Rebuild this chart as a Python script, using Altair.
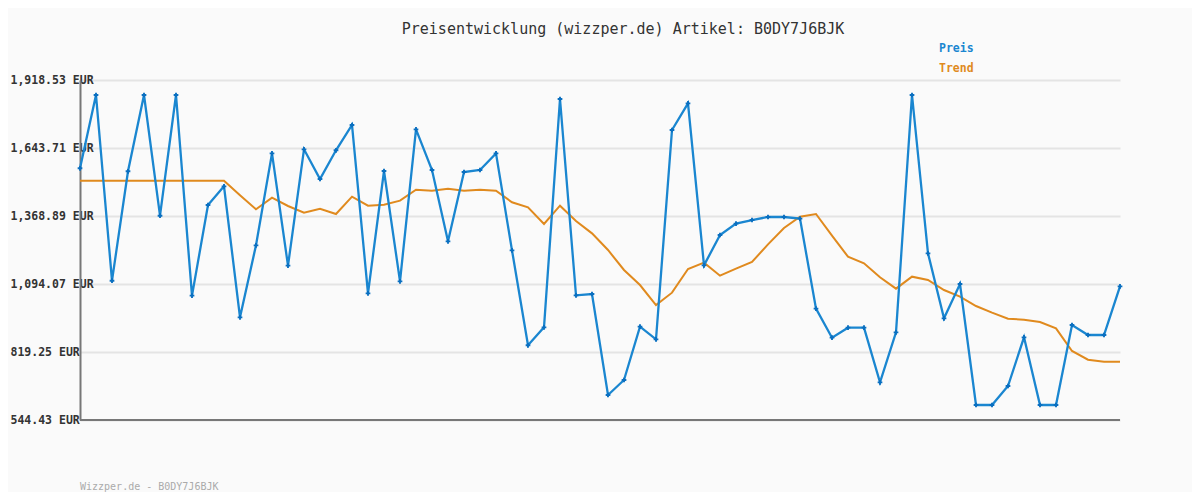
import altair as alt
import pandas as pd

preis = [1561.7, 1857.9, 1107.4, 1549.5, 1857.9, 1370.1, 1857.9, 1046.9, 1413.3, 1488.8,
         959.4, 1250.4, 1622.1, 1168.1, 1638.4, 1518.4, 1634.4, 1736.7, 1056.3, 1550.8,
         1104.9, 1719.1, 1554.8, 1266.5, 1546.7, 1554.8, 1622.1, 1230.2, 846.3, 919.0,
         1841.8, 1048.3, 1053.7, 645.5, 706.1, 921.6, 870.4, 1716.5, 1824.3, 1169.5,
         1292.1, 1337.9, 1352.7, 1364.9, 1364.9, 1358.1, 994.4, 877.1, 917.6, 917.6,
         696.6, 898.7, 1857.9, 1218.0, 955.3, 1094.0, 605.0, 605.0, 681.8, 878.5,
         605.0, 605.0, 928.4, 887.9, 887.9, 1084.6]

trend = [1511.7, 1511.7, 1511.7, 1511.7, 1511.7, 1511.7, 1511.7, 1511.7, 1511.7, 1511.7,
         1453.0, 1395.8, 1443.0, 1409.3, 1382.4, 1398.4, 1376.9, 1447.0, 1410.6, 1414.7,
         1430.9, 1475.3, 1471.2, 1479.3, 1471.2, 1475.3, 1471.2, 1424.2, 1403.9, 1336.5,
         1410.6, 1348.7, 1298.8, 1231.5, 1150.7, 1090.0, 1009.2, 1059.0, 1154.7, 1180.2,
         1127.7, 1156.0, 1183.0, 1254.4, 1320.4, 1366.2, 1376.9, 1289.4, 1204.4, 1177.6,
         1121.0, 1075.2, 1123.7, 1110.2, 1069.8, 1042.8, 1005.1, 978.2, 954.0, 949.9,
         940.5, 914.9, 823.3, 788.2, 780.1, 780.1]

y_ticks = [544.43, 819.25, 1094.07, 1368.89, 1643.71, 1918.53]

title_text = "Preisentwicklung (wizzper.de) Artikel: B0DY7J6BJK"
footer_text = "Wizzper.de - B0DY7J6BJK"
legend_labels = ["Preis", "Trend"]

idx = list(range(len(preis)))
df = pd.DataFrame({"i": idx, "preis": preis, "trend": trend})

BLUE = "#1a86d0"
BLUE_PT = "#0a6fc0"
ORANGE = "#e08a1e"
MONO = "DejaVu Sans Mono"

xs = alt.X("i:Q", scale=alt.Scale(domain=[0, len(preis) - 1], nice=False, zero=False), axis=None)
yscale = alt.Scale(domain=[y_ticks[0], y_ticks[-1]], nice=False, zero=False)

base = alt.Chart(df)

grid = base.mark_line(opacity=0).encode(
    x=xs,
    y=alt.Y("preis:Q", scale=yscale, title=None,
            axis=alt.Axis(values=y_ticks, ticks=False, labelAlign="left", labelPadding=70,
                          labelExpr="format(datum.value, ',.2f') + ' EUR'",
                          labelFont=MONO, labelFontWeight="bold", labelFontSize=11.5,
                          labelColor="#333333", labelBaseline="middle",
                          domainColor="#777777", domainWidth=2,
                          grid=True, gridColor="#e4e4e4", gridWidth=2)),
)

trend_line = base.mark_line(color=ORANGE, strokeWidth=2).encode(
    x=xs, y=alt.Y("trend:Q", scale=yscale)
)

preis_line = base.mark_line(color=BLUE, strokeWidth=2.3).encode(
    x=xs, y=alt.Y("preis:Q", scale=yscale)
)

preis_pts = base.mark_point(shape="cross", filled=True, size=22, color=BLUE_PT, opacity=1).encode(
    x=xs, y=alt.Y("preis:Q", scale=yscale)
)

bottom_axis = alt.Chart(pd.DataFrame({"a": [0]})).mark_rule(color="#777777", strokeWidth=2).encode(
    x=alt.value(0), x2=alt.value(1040), y=alt.value(340)
)

title = alt.Chart(pd.DataFrame({"t": [title_text]})).mark_text(
    font=MONO, fontSize=15, color="#333333", align="center", baseline="middle"
).encode(text="t:N", x=alt.value(543), y=alt.value(-51))

leg_df = pd.DataFrame({"t": legend_labels, "c": [BLUE, ORANGE], "yy": [-33, -13]})
legend = alt.Chart(leg_df).mark_text(
    font=MONO, fontSize=11.5, fontWeight="bold", align="left", baseline="middle", dy=2
).encode(text="t:N", x=alt.value(859), y=alt.Y("yy:Q", scale=None),
         color=alt.Color("c:N", scale=None))

footer = alt.Chart(pd.DataFrame({"t": [footer_text]})).mark_text(
    font=MONO, fontSize=10, color="#aaaaaa", align="left", baseline="middle"
).encode(text="t:N", x=alt.value(0), y=alt.value(407))

chart = alt.layer(grid, bottom_axis, trend_line, preis_line, preis_pts, title, legend, footer).properties(
    width=1040, height=340,
    autosize=alt.AutoSizeParams(type="none"),
    padding={"left": 72, "top": 72, "right": 72, "bottom": 72},
    background="#fafafa",
).configure_view(stroke=None)

chart.save("out.html", embed_options={"renderer": "svg", "actions": False})
